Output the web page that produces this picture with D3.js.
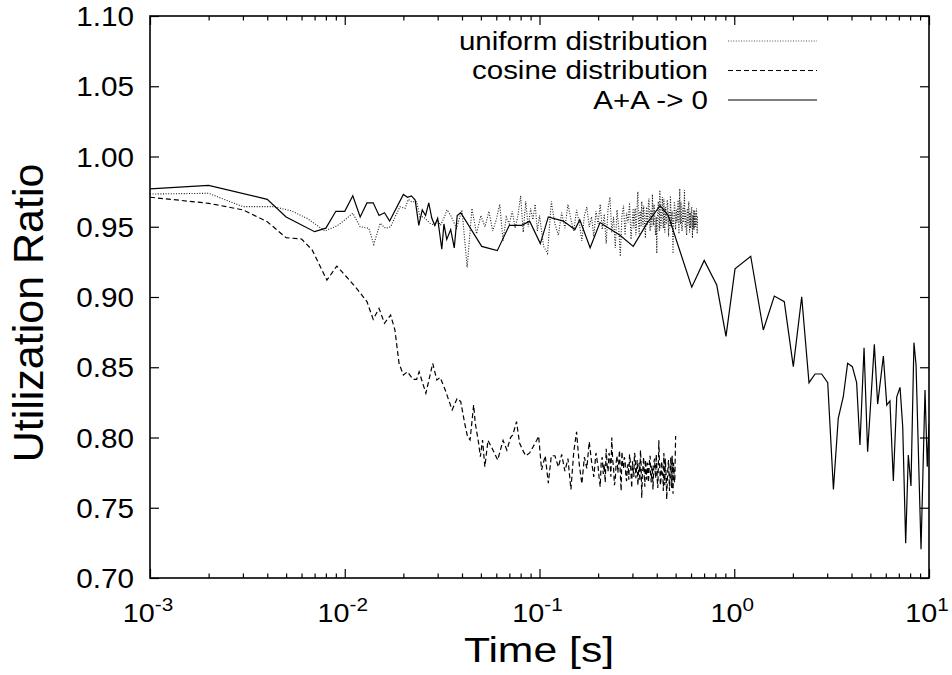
<!DOCTYPE html>
<html>
<head>
<meta charset="utf-8">
<script src="https://cdn.jsdelivr.net/npm/d3@7"></script>
<style>
  body { margin: 0; background: #fff; }
  text { font-family: "Liberation Sans", Arial, Helvetica, sans-serif; fill: #000; }
</style>
</head>
<body>
<div class="canvas"></div>
<script>
// A+A -> 0 (solid)
const solidTime = [0.001, 0.002, 0.004, 0.005, 0.007, 0.008, 0.009, 0.010, 0.011, 0.012, 0.013, 0.014, 0.015, 0.016, 0.017,
    0.020, 0.021, 0.022, 0.023, 0.024, 0.025, 0.026, 0.027, 0.028, 0.029, 0.030, 0.0315, 0.0323, 0.0334, 0.035, 0.0365,
    0.0378, 0.0394, 0.0505, 0.0607, 0.070, 0.081, 0.089, 0.101, 0.111, 0.1325, 0.152, 0.161, 0.182, 0.2045, 0.259, 0.303,
    0.355, 0.416, 0.4585, 0.605, 0.701, 0.813, 0.907, 1.009, 1.215, 1.41, 1.606, 1.807, 2.01, 2.22, 2.42, 2.60, 2.81, 3.02,
    3.23, 3.42, 3.63, 3.82, 4.04, 4.25, 4.42, 4.64, 4.84, 5.24, 5.45, 5.83, 6.07, 6.30, 6.56, 6.83, 7.10, 7.33, 7.59, 7.83,
    8.08, 8.37, 8.58, 9.10, 9.54, 9.80, 10.0];
const solidRatio = [0.977, 0.9795, 0.9695, 0.957, 0.9465, 0.949, 0.961, 0.961, 0.972, 0.957, 0.967, 0.967, 0.958, 0.960, 0.954,
    0.973, 0.971, 0.972, 0.969, 0.951, 0.962, 0.958, 0.967, 0.956, 0.951, 0.956, 0.934, 0.952, 0.941, 0.948, 0.935,
    0.958, 0.960, 0.936, 0.933, 0.951, 0.951, 0.954, 0.938, 0.957, 0.954, 0.948, 0.955, 0.935, 0.953, 0.944, 0.936,
    0.952, 0.965, 0.958, 0.907, 0.926, 0.9085, 0.872, 0.920, 0.929, 0.8765, 0.9007, 0.8967, 0.8504, 0.9002, 0.839, 0.8452, 0.8452, 0.839,
    0.7631, 0.8137, 0.829, 0.8528, 0.8504, 0.839, 0.7947, 0.8639, 0.7899, 0.8663, 0.8238, 0.858, 0.8231, 0.826, 0.769, 0.829, 0.8357, 0.8077, 0.7247, 0.7875,
    0.7655, 0.8675, 0.8516, 0.7204, 0.8338, 0.7792, 0.81];

// uniform distribution (dotted)
const uniformTime = [0.001, 0.002, 0.003, 0.0043, 0.0053, 0.0064, 0.0079, 0.0091, 0.010, 0.011, 0.012, 0.0133, 0.0141, 0.0152,
    0.0162, 0.0172, 0.0192, 0.0204, 0.0212, 0.022, 0.0234, 0.0243, 0.0254, 0.0274, 0.029, 0.030, 0.031, 0.0325, 0.0335,
    0.035, 0.0375, 0.04, 0.0425, 0.045, 0.0475, 0.05, 0.0525, 0.055, 0.0575, 0.06, 0.0625, 0.065, 0.0675, 0.07, 0.0725,
    0.075, 0.0775, 0.08, 0.0825, 0.085, 0.0875, 0.09, 0.0925, 0.095, 0.0975, 0.10,
    0.105, 0.11, 0.115, 0.12, 0.125, 0.13, 0.135, 0.14, 0.145, 0.15, 0.155, 0.16, 0.165, 0.17, 0.175, 0.18, 0.185, 0.19, 0.195, 0.20,
    0.205, 0.21, 0.215, 0.22, 0.225, 0.23, 0.235, 0.24, 0.245, 0.25, 0.255, 0.26, 0.265, 0.27, 0.275, 0.28, 0.285, 0.29, 0.295,
    0.3, 0.3025, 0.305, 0.3075, 0.31, 0.3125, 0.315, 0.3175, 0.32, 0.3225, 0.325, 0.3275, 0.33, 0.3325, 0.335, 0.3375, 0.34, 0.3425, 0.345, 0.3475,
    0.35, 0.3525, 0.355, 0.3575, 0.36, 0.3625, 0.365, 0.3675, 0.37, 0.3725, 0.375, 0.3775, 0.38, 0.3825, 0.385, 0.3875, 0.39, 0.3925, 0.395, 0.3975,
    0.4, 0.4025, 0.405, 0.4075, 0.41, 0.4125, 0.415, 0.4175, 0.42, 0.4225, 0.425, 0.4275, 0.43, 0.4325, 0.435, 0.4375, 0.44, 0.4425, 0.445, 0.4475,
    0.45, 0.4525, 0.455, 0.4575, 0.46, 0.4625, 0.465, 0.4675, 0.47, 0.4725, 0.475, 0.4775, 0.48, 0.4825, 0.485, 0.4875, 0.49, 0.4925, 0.495, 0.4975,
    0.5, 0.5025, 0.505, 0.5075, 0.51, 0.5125, 0.515, 0.5175, 0.52, 0.5225, 0.525, 0.5275, 0.53, 0.5325, 0.535, 0.5375, 0.54, 0.5425, 0.545, 0.5475,
    0.55, 0.5525, 0.555, 0.5575, 0.56, 0.5625, 0.565, 0.5675, 0.57, 0.5725, 0.575, 0.5775, 0.58, 0.5825, 0.585, 0.5875, 0.59, 0.5925, 0.595, 0.5975,
    0.6, 0.6025, 0.605, 0.6075, 0.61, 0.6125, 0.615, 0.6175, 0.62, 0.6225, 0.625, 0.6275, 0.63, 0.6325, 0.635, 0.6375, 0.64, 0.6425, 0.645, 0.6475,
    0.65];
const uniformRatio = [0.9733, 0.9738, 0.9643, 0.9643, 0.9614, 0.956, 0.947, 0.9505, 0.9548, 0.9596, 0.950, 0.9489, 0.9375, 0.9525,
    0.9489, 0.950, 0.9643, 0.9631, 0.9695, 0.9678, 0.9678, 0.9572, 0.957, 0.9525, 0.951, 0.955, 0.951, 0.957, 0.962,
    0.958, 0.949, 0.962, 0.921, 0.963, 0.945, 0.958, 0.950, 0.961, 0.947, 0.955, 0.966, 0.940, 0.957, 0.952, 0.961,
    0.949, 0.958, 0.972, 0.946, 0.968, 0.950, 0.963, 0.955, 0.966, 0.947, 0.958,
    0.936, 0.931, 0.968, 0.952, 0.944, 0.960, 0.949, 0.966, 0.955, 0.947, 0.962, 0.953, 0.940, 0.958, 0.964, 0.950, 0.957, 0.943, 0.961, 0.952,
    0.966, 0.948, 0.959, 0.938, 0.963, 0.971, 0.946, 0.957, 0.935, 0.962, 0.950, 0.929, 0.958, 0.965, 0.944, 0.960, 0.953, 0.967, 0.941,
    0.956, 0.963, 0.949, 0.958, 0.963, 0.944, 0.952, 0.966, 0.975, 0.953, 0.945, 0.961, 0.960, 0.950, 0.968, 0.957, 0.950, 0.965, 0.958, 0.948,
    0.942, 0.959, 0.964, 0.951, 0.954, 0.967, 0.970, 0.955, 0.947, 0.962, 0.961, 0.950, 0.973, 0.959, 0.951, 0.966, 0.959, 0.948, 0.944, 0.957,
    0.931, 0.953, 0.962, 0.968, 0.956, 0.947, 0.976, 0.960, 0.949, 0.955, 0.963, 0.971, 0.955, 0.949, 0.970, 0.958, 0.946, 0.964, 0.960, 0.952,
    0.952, 0.969, 0.967, 0.956, 0.943, 0.961, 0.958, 0.949, 0.972, 0.963, 0.950, 0.957, 0.961, 0.945, 0.931, 0.954, 0.957, 0.968, 0.966, 0.951,
    0.948, 0.960, 0.962, 0.953, 0.954, 0.965, 0.969, 0.957, 0.945, 0.962, 0.977, 0.956, 0.952, 0.968, 0.960, 0.949, 0.947, 0.958, 0.965, 0.953,
    0.955, 0.964, 0.976, 0.959, 0.949, 0.962, 0.958, 0.946, 0.944, 0.956, 0.963, 0.951, 0.953, 0.967, 0.968, 0.955, 0.946, 0.960, 0.959, 0.949,
    0.951, 0.963, 0.964, 0.954, 0.942, 0.958, 0.957, 0.948, 0.962, 0.955, 0.948, 0.961, 0.960, 0.950, 0.952, 0.959, 0.963, 0.953, 0.945, 0.957,
    0.958];

// cosine distribution (dashed)
const cosineTime = [0.001, 0.002, 0.003, 0.004, 0.005, 0.006, 0.0068, 0.0081, 0.0091, 0.0102, 0.0115, 0.013, 0.014, 0.015, 0.016,
    0.0172, 0.0181, 0.019, 0.020, 0.021, 0.0224, 0.0234, 0.0241, 0.0261, 0.0283, 0.0297, 0.0309, 0.0328, 0.0356, 0.0378,
    0.0394, 0.0413, 0.0427, 0.044, 0.0459, 0.0468, 0.0487, 0.0497, 0.051, 0.0524, 0.0544, 0.0577, 0.061, 0.065, 0.068,
    0.071, 0.073, 0.0762, 0.079, 0.082, 0.085, 0.089, 0.0968, 0.099, 0.1025, 0.107, 0.111, 0.115, 0.120,
    0.125, 0.13, 0.135, 0.14, 0.145, 0.15, 0.155, 0.16, 0.165, 0.17, 0.175, 0.18, 0.185, 0.19, 0.195,
    0.2, 0.2025, 0.205, 0.2075, 0.21, 0.2125, 0.215, 0.2175, 0.22, 0.2225, 0.225, 0.2275, 0.23, 0.2325, 0.235, 0.2375, 0.24, 0.2425, 0.245, 0.2475,
    0.25, 0.2525, 0.255, 0.2575, 0.26, 0.2625, 0.265, 0.2675, 0.27, 0.2725, 0.275, 0.2775, 0.28, 0.2825, 0.285, 0.2875, 0.29, 0.2925, 0.295, 0.2975,
    0.3, 0.3025, 0.305, 0.3075, 0.31, 0.3125, 0.315, 0.3175, 0.32, 0.3225, 0.325, 0.3275, 0.33, 0.3325, 0.335, 0.3375, 0.34, 0.3425, 0.345, 0.3475,
    0.35, 0.3525, 0.355, 0.3575, 0.36, 0.3625, 0.365, 0.3675, 0.37, 0.3725, 0.375, 0.3775, 0.38, 0.3825, 0.385, 0.3875, 0.39, 0.3925, 0.395, 0.3975,
    0.4, 0.4025, 0.405, 0.4075, 0.41, 0.4125, 0.415, 0.4175, 0.42, 0.4225, 0.425, 0.4275, 0.43, 0.4325, 0.435, 0.4375, 0.44, 0.4425, 0.445, 0.4475,
    0.45, 0.4525, 0.455, 0.4575, 0.46, 0.4625, 0.465, 0.4675, 0.47, 0.4725, 0.475, 0.4775, 0.48, 0.4825, 0.485, 0.4875, 0.49, 0.4925, 0.495, 0.4975,
    0.5];
const cosineRatio = [0.971, 0.9667, 0.962, 0.9536, 0.9422, 0.9413, 0.9335, 0.912, 0.922, 0.9144, 0.9062, 0.8967, 0.8841, 0.8919, 0.8813,
    0.8872, 0.8765, 0.8528, 0.8445, 0.8468, 0.8414, 0.8414, 0.8468, 0.8315, 0.8528, 0.8409, 0.8428, 0.8338, 0.8196, 0.8279,
    0.8255, 0.8101, 0.8006, 0.7982, 0.8231, 0.8101, 0.7959, 0.7863, 0.7982, 0.7792, 0.798, 0.791, 0.784, 0.798, 0.791,
    0.800, 0.802, 0.8113, 0.796, 0.791, 0.787, 0.789, 0.798, 0.801, 0.7769, 0.787, 0.7674, 0.787, 0.787,
    0.779, 0.788, 0.776, 0.785, 0.763, 0.790, 0.804, 0.781, 0.767, 0.786, 0.778, 0.797, 0.783, 0.772, 0.789,
    0.779, 0.771, 0.765, 0.783, 0.786, 0.774, 0.781, 0.768, 0.792, 0.780, 0.776, 0.789, 0.785, 0.772, 0.800, 0.784, 0.779, 0.766, 0.770, 0.782,
    0.787, 0.775, 0.782, 0.791, 0.774, 0.762, 0.790, 0.781, 0.778, 0.786, 0.784, 0.773, 0.769, 0.779, 0.781, 0.770, 0.788, 0.783, 0.775, 0.764,
    0.783, 0.777, 0.772, 0.789, 0.786, 0.771, 0.778, 0.784, 0.766, 0.776, 0.782, 0.769, 0.791, 0.780, 0.757, 0.774, 0.779, 0.786, 0.773, 0.765,
    0.784, 0.778, 0.770, 0.782, 0.781, 0.768, 0.776, 0.785, 0.787, 0.772, 0.768, 0.780, 0.779, 0.763, 0.774, 0.783, 0.785, 0.776, 0.771, 0.788,
    0.780, 0.770, 0.764, 0.779, 0.798, 0.784, 0.777, 0.766, 0.769, 0.781, 0.783, 0.774, 0.773, 0.762, 0.789, 0.778, 0.766, 0.785, 0.778, 0.771,
    0.756, 0.767, 0.775, 0.781, 0.784, 0.773, 0.762, 0.770, 0.779, 0.786, 0.770, 0.764, 0.787, 0.775, 0.760, 0.782, 0.776, 0.769, 0.768, 0.785,
    0.801];

const xTickValues = [0.001, 0.01, 0.1, 1, 10];
const xTickExponents = ['-3', '-2', '-1', '0', '1'];
const yTickValues = [0.70, 0.75, 0.80, 0.85, 0.90, 0.95, 1.00, 1.05, 1.10];
const yTickLabels = ['0.70', '0.75', '0.80', '0.85', '0.90', '0.95', '1.00', '1.05', '1.10'];

const legendNames = ['uniform distribution', 'cosine distribution', 'A+A -> 0'];

const svg = d3.select('.canvas')
    .append('svg')
    .attr('width', 952)
    .attr('height', 675);

const margin = { top: 16, right: 23, bottom: 97, left: 150 };
const graphWidth = 952 - margin.left - margin.right;
const graphHeight = 675 - margin.top - margin.bottom;

const graph = svg.append('g')
    .attr('transform', `translate(${margin.left},${margin.top})`);

const x = d3.scaleLog()
    .domain([0.001, 10])
    .range([0, graphWidth]);
const y = d3.scaleLinear()
    .domain([0.70, 1.10])
    .range([graphHeight, 0]);

graph.append('clipPath').attr('id', 'clip')
    .append('rect')
    .attr('width', graphWidth)
    .attr('height', graphHeight);

const line = d3.line()
    .defined(d => d[1] != null)
    .x(d => x(d[0]))
    .y(d => y(d[1]));

const series = [
    { time: uniformTime, ratio: uniformRatio, dash: '1,1.6', color: '#1a1a1a', width: 1.1 },
    { time: cosineTime, ratio: cosineRatio, dash: '5,3', color: '#000', width: 1.2 },
    { time: solidTime, ratio: solidRatio, dash: null, color: '#000', width: 1.2 }
];

series.forEach(s => {
    graph.append('path')
        .datum(s.time.map((t, i) => [t, s.ratio[i]]))
        .attr('clip-path', 'url(#clip)')
        .attr('fill', 'none')
        .attr('stroke', s.color)
        .attr('stroke-width', s.width)
        .attr('stroke-dasharray', s.dash)
        .attr('d', line);
});

// ticks (inward, mirrored)
const minorTicks = x.ticks().filter(t => !xTickValues.includes(t));
const tickGroups = [
    { axis: d3.axisBottom(x).tickValues(xTickValues).tickSize(-9), at: `translate(0,${graphHeight})` },
    { axis: d3.axisBottom(x).tickValues(minorTicks).tickSize(-4.5), at: `translate(0,${graphHeight})` },
    { axis: d3.axisTop(x).tickValues(xTickValues).tickSize(-9), at: 'translate(0,0)' },
    { axis: d3.axisTop(x).tickValues(minorTicks).tickSize(-4.5), at: 'translate(0,0)' },
    { axis: d3.axisLeft(y).tickValues(yTickValues).tickSize(-9), at: 'translate(0,0)' },
    { axis: d3.axisRight(y).tickValues(yTickValues).tickSize(-9), at: `translate(${graphWidth},0)` }
];
tickGroups.forEach(g => {
    const grp = graph.append('g').attr('transform', g.at).call(g.axis.tickFormat(''));
    grp.select('.domain').remove();
    grp.selectAll('line').attr('stroke', '#000').attr('stroke-width', 1.2);
});

graph.append('rect')
    .attr('width', graphWidth)
    .attr('height', graphHeight)
    .attr('fill', 'none')
    .attr('stroke', '#000')
    .attr('stroke-width', 1.6);

// y tick labels
graph.selectAll('.ylab')
    .data(yTickValues)
    .enter()
    .append('text')
    .attr('class', 'ylab')
    .attr('transform', d => `translate(-16,${y(d) + 10}) scale(1.1,1)`)
    .attr('text-anchor', 'end')
    .attr('font-size', 27)
    .text((d, i) => yTickLabels[i]);

// x tick labels 10^n
const xl = graph.selectAll('.xlab')
    .data(xTickValues)
    .enter()
    .append('text')
    .attr('class', 'xlab')
    .attr('transform', d => `translate(${x(d) - 2},${graphHeight + 44}) scale(1.15,1)`)
    .attr('text-anchor', 'middle')
    .attr('font-size', 25);
xl.append('tspan').text('10');
xl.append('tspan').attr('dy', -11).attr('font-size', 18).text((d, i) => xTickExponents[i]);

// axis titles
svg.append('text')
    .attr('transform', `translate(539,662) scale(1.22,1)`)
    .attr('text-anchor', 'middle')
    .attr('font-size', 35)
    .text('Time [s]');

svg.append('text')
    .attr('transform', 'translate(43,313) rotate(-90)')
    .attr('text-anchor', 'middle')
    .attr('font-size', 43)
    .text('Utilization Ratio');

// legend
const legendBase = [49.5, 79, 108.5];
legendNames.forEach((name, i) => {
    svg.append('text')
        .attr('transform', `translate(708,${legendBase[i]}) scale(1.18,1)`)
        .attr('text-anchor', 'end')
        .attr('font-size', 25)
        .text(name);
    svg.append('line')
        .attr('x1', 728).attr('x2', 817)
        .attr('y1', legendBase[i] - 8.5).attr('y2', legendBase[i] - 8.5)
        .attr('stroke', i === 0 ? '#555' : '#000')
        .attr('stroke-width', 1.1)
        .attr('stroke-dasharray', series[i].dash);
});
</script>
</body>
</html>
